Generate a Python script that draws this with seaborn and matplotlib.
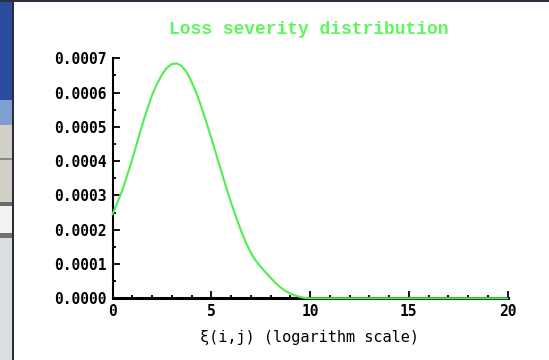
import matplotlib
matplotlib.use("Agg")
import matplotlib.pyplot as plt
from matplotlib.patches import Rectangle
from matplotlib.ticker import MultipleLocator, FormatStrFormatter
import seaborn as sns
import pandas as pd

# ---- data ----
x_vals = [0, 0.25, 0.5, 0.75, 1, 1.25, 1.5, 1.75, 2, 2.25, 2.5, 2.75, 3,
          3.25, 3.5, 3.75, 4, 4.25, 4.5, 4.75, 5, 5.25, 5.5, 5.75, 6, 6.25,
          6.5, 6.75, 7, 7.25, 7.5, 7.75, 8, 8.25, 8.5, 8.75, 9, 9.25, 9.5,
          9.75, 10, 12, 14, 16, 18, 20]
density = [0.000245, 0.000280, 0.000315, 0.000360, 0.000405, 0.000455,
           0.000505, 0.000550, 0.000592, 0.000625, 0.000652, 0.000672,
           0.000683, 0.000685, 0.000678, 0.000660, 0.000632, 0.000598,
           0.000558, 0.000514, 0.000468, 0.000420, 0.000372, 0.000325,
           0.000280, 0.000238, 0.000198, 0.000163, 0.000133, 0.000110,
           0.000092, 0.000076, 0.000060, 0.000045, 0.000032, 0.000022,
           0.000014, 0.000008, 0.000004, 0.000001, 0.0,
           0.0, 0.0, 0.0, 0.0, 0.0]
title = "Loss severity distribution"
xlabel = "ξ(i,j) (logarithm scale)"

df = pd.DataFrame({"x": x_vals, "y": density})

sns.set_style("white")
fig = plt.figure(figsize=(5.49, 3.6), dpi=100)
fig.patch.set_facecolor("white")

# screenshot frame decoration
W, H = 549.0, 360.0
def frect(x0, y0, w, h, color, z=0):
    fig.patches.append(Rectangle((x0 / W, 1 - (y0 + h) / H), w / W, h / H,
                                 transform=fig.transFigure, color=color,
                                 zorder=z, linewidth=0))
frect(0, 0, 12, 100, "#2a4c9c")
frect(0, 100, 12, 25, "#7f9fd0")
frect(0, 125, 12, 80, "#d2cec8")
frect(0, 158, 12, 1.5, "#8a8a8a")
frect(0, 202, 12, 4, "#6a6a6a")
frect(0, 206, 12, 27, "#f2f2f2")
frect(0, 233, 12, 5, "#707070")
frect(0, 238, 12, 122, "#dcdfe2")
frect(12, 0, 1.5, 360, "#2a2e36")
frect(0, 0, 549, 2, "#283040")

ax = fig.add_axes([112.5 / W, 1 - 298.3 / H, 395 / W, 240 / H])
ax.set_facecolor("none")

sns.lineplot(data=df, x="x", y="y", ax=ax, color="#4ef04e", linewidth=1.5,
             clip_on=False, zorder=5)

ax.set_xlim(0, 20)
ax.set_ylim(0, 0.0007)
ax.xaxis.set_major_locator(MultipleLocator(5))
ax.xaxis.set_minor_locator(MultipleLocator(1))
ax.yaxis.set_major_locator(MultipleLocator(0.0001))
ax.yaxis.set_minor_locator(MultipleLocator(0.00005))
ax.yaxis.set_major_formatter(FormatStrFormatter("%.4f"))

for s in ["top", "right"]:
    ax.spines[s].set_visible(False)
ax.spines["left"].set_linewidth(1.5)
ax.spines["bottom"].set_linewidth(2.2)
ax.spines["left"].set_color("black")
ax.spines["bottom"].set_color("black")

ax.tick_params(which="both", direction="in", colors="black",
               bottom=True, left=True, top=False, right=False)
ax.tick_params(which="major", length=5, width=1.3, pad=4)
ax.tick_params(which="minor", length=2.5, width=1.3)
for lab in ax.get_xticklabels() + ax.get_yticklabels():
    lab.set_fontfamily("DejaVu Sans Mono")
    lab.set_fontweight("bold")
    lab.set_fontsize(10.5)

ax.set_xlabel(xlabel, fontfamily="DejaVu Sans Mono", fontsize=11,
              color="black", labelpad=8)
ax.set_ylabel("")

fig.text(0.5617, 1 - 30 / H, title, ha="center", va="center",
         color="#5cf75c", fontfamily="Liberation Mono", fontweight="bold",
         fontsize=13)

fig.savefig("out.png", dpi=100)
